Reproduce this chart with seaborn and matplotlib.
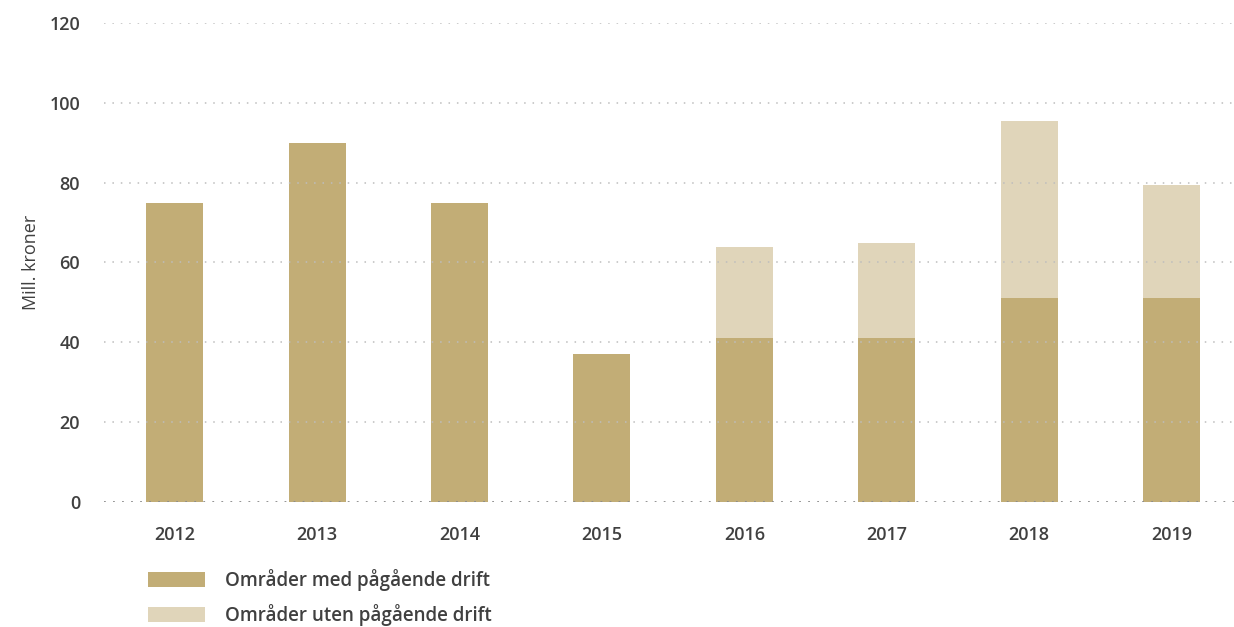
"""
Mill. kroner per år, områder med og uten pågående drift.
"""

import pandas as pd
import seaborn as sns
import matplotlib.pyplot as plt
from matplotlib.patches import Patch

# Data
years = ['2012', '2013', '2014', '2015', '2016', '2017', '2018', '2019']
med_drift = [75, 90, 75, 37, 41, 41, 51, 51]
totalt = [75, 90, 75, 37, 64, 65, 95.5, 79.5]
legend_labels = ['Områder med pågående drift', 'Områder uten pågående drift']

dark = '#C2AD76'
light = '#E0D5BA'
text_col = '#404040'

df = pd.DataFrame({'year': years, 'med': med_drift, 'total': totalt})

sns.set_style("white")
plt.rcParams['font.family'] = ['Open Sans', 'DejaVu Sans']
plt.rcParams['font.weight'] = 'semibold'

fig = plt.figure(figsize=(12.34, 6.27), dpi=100)
ax = fig.add_axes([0.084, 0.1994, 0.923, 0.7639])

# stacked: total (light) behind, med drift (dark) in front
sns.barplot(data=df, x='year', y='total', color=light, width=0.4, saturation=1,
            linewidth=0, ax=ax)
sns.barplot(data=df, x='year', y='med', color=dark, width=0.4, saturation=1,
            linewidth=0, ax=ax)

ax.set_ylim(0, 120)
ax.set_xlim(-0.5, 7.5)
ax.set_yticks(range(0, 121, 20))
ax.set_xlabel('')
ax.set_ylabel('Mill. kroner', fontsize=13, color=text_col, labelpad=7)
ax.tick_params(axis='both', length=0, labelsize=13, labelcolor=text_col)
ax.tick_params(axis='x', pad=17)
ax.tick_params(axis='y', pad=17)
for s in ax.spines.values():
    s.set_visible(False)

# dotted grid drawn on top of the bars
for y in range(20, 121, 20):
    ax.axhline(y, color='#BDBDBD', lw=1.1, linestyle=(0, (1, 4.5)), zorder=5)
ax.axhline(0, color='#8A8A8A', lw=1.3, linestyle=(0, (1, 4)), zorder=5)

handles = [Patch(facecolor=dark, edgecolor='none'), Patch(facecolor=light, edgecolor='none')]
fig.legend(handles, legend_labels, loc='upper left', bbox_to_anchor=(0.120, 0.092),
           frameon=False, fontsize=13.5, labelcolor=text_col, handlelength=3.05,
           handleheight=0.85, handletextpad=1.05, labelspacing=0.68, borderaxespad=0,
           borderpad=0)

fig.savefig('out.png', dpi=100)
